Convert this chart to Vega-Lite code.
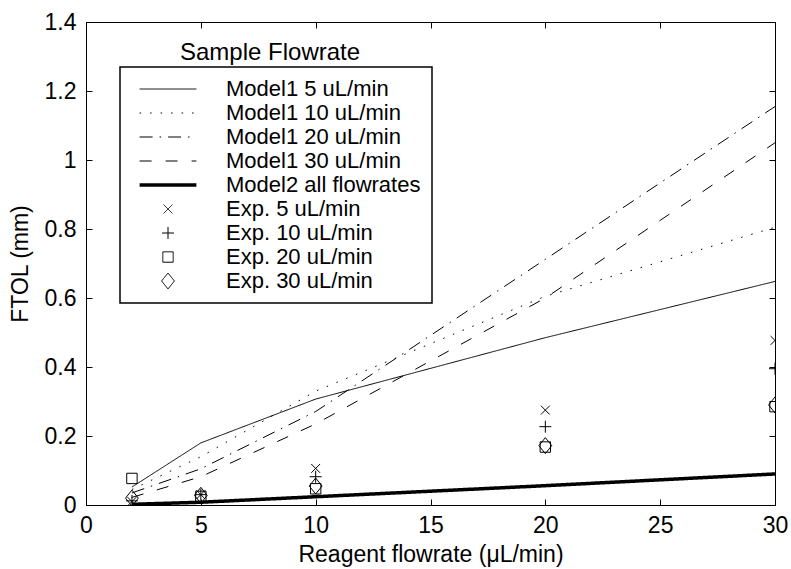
{
  "$schema": "https://vega.github.io/schema/vega-lite/v6.json",
  "width": 689,
  "height": 483,
  "autosize": {"type": "none"},
  "padding": {"left": 86, "top": 22, "right": 16, "bottom": 64},
  "background": "white",
  "title": {
    "text": "Sample Flowrate",
    "anchor": "start",
    "frame": "group",
    "dx": 94,
    "offset": -38,
    "dy": 35,
    "baseline": "alphabetic",
    "fontSize": 24,
    "fontWeight": "normal",
    "font": "Liberation Sans",
    "color": "black"
  },
  "config": {
    "font": "Liberation Sans",
    "view": {"stroke": "black", "strokeWidth": 1},
    "axis": {
      "grid": false,
      "domainColor": "black",
      "tickColor": "black",
      "labelColor": "black",
      "titleColor": "black",
      "labelFont": "Liberation Sans",
      "titleFont": "Liberation Sans",
      "labelFontSize": 23,
      "titleFontSize": 23,
      "titleFontWeight": "normal",
      "tickSize": -6,
      "labelPadding": 15,
      "labelFlush": false,
      "labelOverlap": false
    },
    "legend": {
      "orient": "none",
      "legendX": 34,
      "legendY": 45,
      "strokeColor": "black",
      "strokeWidth": 1.5,
      "fillColor": "white",
      "padding": 11,
      "labelFont": "Liberation Sans",
      "labelFontSize": 22,
      "labelColor": "black",
      "labelLimit": 400,
      "symbolSize": 64,
      "symbolStrokeColor": "black",
      "symbolFillColor": "transparent",
      "symbolOpacity": 1,
      "labelOffset": 47,
      "rowPadding": 2,
      "symbolOffset": 26
    }
  },
  "datasets": {
    "model": [
      {"series": "Model1 5 uL/min", "flow": 2, "ftol": 0.052},
      {"series": "Model1 5 uL/min", "flow": 5, "ftol": 0.18},
      {"series": "Model1 5 uL/min", "flow": 10, "ftol": 0.307},
      {"series": "Model1 5 uL/min", "flow": 20, "ftol": 0.485},
      {"series": "Model1 5 uL/min", "flow": 30, "ftol": 0.648},
      {"series": "Model1 10 uL/min", "flow": 2, "ftol": 0.045},
      {"series": "Model1 10 uL/min", "flow": 5, "ftol": 0.14},
      {"series": "Model1 10 uL/min", "flow": 10, "ftol": 0.33},
      {"series": "Model1 10 uL/min", "flow": 20, "ftol": 0.605},
      {"series": "Model1 10 uL/min", "flow": 30, "ftol": 0.805},
      {"series": "Model1 20 uL/min", "flow": 2, "ftol": 0.035},
      {"series": "Model1 20 uL/min", "flow": 5, "ftol": 0.105},
      {"series": "Model1 20 uL/min", "flow": 10, "ftol": 0.271},
      {"series": "Model1 20 uL/min", "flow": 20, "ftol": 0.712},
      {"series": "Model1 20 uL/min", "flow": 30, "ftol": 1.155},
      {"series": "Model1 30 uL/min", "flow": 2, "ftol": 0.022},
      {"series": "Model1 30 uL/min", "flow": 5, "ftol": 0.082},
      {"series": "Model1 30 uL/min", "flow": 10, "ftol": 0.235},
      {"series": "Model1 30 uL/min", "flow": 20, "ftol": 0.6},
      {"series": "Model1 30 uL/min", "flow": 30, "ftol": 1.05},
      {"series": "Model2 all flowrates", "flow": 2, "ftol": 0.002},
      {"series": "Model2 all flowrates", "flow": 5, "ftol": 0.008},
      {"series": "Model2 all flowrates", "flow": 10, "ftol": 0.024},
      {"series": "Model2 all flowrates", "flow": 20, "ftol": 0.056},
      {"series": "Model2 all flowrates", "flow": 30, "ftol": 0.09}
    ],
    "exp": [
      {"series": "Exp. 5 uL/min", "flow": 2, "ftol": 0.01},
      {"series": "Exp. 5 uL/min", "flow": 5, "ftol": 0.03},
      {"series": "Exp. 5 uL/min", "flow": 10, "ftol": 0.106},
      {"series": "Exp. 5 uL/min", "flow": 20, "ftol": 0.275},
      {"series": "Exp. 5 uL/min", "flow": 30, "ftol": 0.477},
      {"series": "Exp. 10 uL/min", "flow": 2, "ftol": 0.012},
      {"series": "Exp. 10 uL/min", "flow": 5, "ftol": 0.03},
      {"series": "Exp. 10 uL/min", "flow": 10, "ftol": 0.082},
      {"series": "Exp. 10 uL/min", "flow": 20, "ftol": 0.227},
      {"series": "Exp. 10 uL/min", "flow": 30, "ftol": 0.395},
      {"series": "Exp. 20 uL/min", "flow": 2, "ftol": 0.077},
      {"series": "Exp. 20 uL/min", "flow": 5, "ftol": 0.025},
      {"series": "Exp. 20 uL/min", "flow": 10, "ftol": 0.047},
      {"series": "Exp. 20 uL/min", "flow": 20, "ftol": 0.168},
      {"series": "Exp. 20 uL/min", "flow": 30, "ftol": 0.285},
      {"series": "Exp. 30 uL/min", "flow": 2, "ftol": 0.02},
      {"series": "Exp. 30 uL/min", "flow": 5, "ftol": 0.028},
      {"series": "Exp. 30 uL/min", "flow": 10, "ftol": 0.055},
      {"series": "Exp. 30 uL/min", "flow": 20, "ftol": 0.172},
      {"series": "Exp. 30 uL/min", "flow": 30, "ftol": 0.29}
    ]
  },
  "layer": [
    {
      "data": {"name": "model"},
      "mark": {"type": "line", "color": "black", "clip": true},
      "encoding": {
        "x": {
          "field": "flow", "type": "quantitative",
          "scale": {"domain": [0, 30], "nice": false, "zero": false},
          "axis": {"orient": "bottom", "title": "Reagent flowrate (μL/min)", "values": [0, 5, 10, 15, 20, 25, 30], "titlePadding": 6}
        },
        "y": {
          "field": "ftol", "type": "quantitative",
          "scale": {"domain": [0, 1.4], "nice": false, "zero": false},
          "axis": {"orient": "left", "title": "FTOL (mm)", "values": [0, 0.2, 0.4, 0.6, 0.8, 1, 1.2, 1.4], "format": "~g", "labelPadding": 16, "titlePadding": 12}
        },
        "strokeDash": {
          "field": "series", "type": "nominal",
          "scale": {
            "domain": ["Model1 5 uL/min", "Model1 10 uL/min", "Model1 20 uL/min", "Model1 30 uL/min", "Model2 all flowrates", "Exp. 5 uL/min", "Exp. 10 uL/min", "Exp. 20 uL/min", "Exp. 30 uL/min"],
            "range": [[1, 0], [1.5, 9], [13, 7, 1.5, 7], [12, 14], [1, 0], [1, 0], [1, 0], [1, 0], [1, 0]]
          },
          "legend": {"title": null}
        },
        "strokeWidth": {
          "field": "series", "type": "nominal",
          "scale": {
            "type": "ordinal",
            "domain": ["Model1 5 uL/min", "Model1 10 uL/min", "Model1 20 uL/min", "Model1 30 uL/min", "Model2 all flowrates", "Exp. 5 uL/min", "Exp. 10 uL/min", "Exp. 20 uL/min", "Exp. 30 uL/min"],
            "range": [1, 1, 1, 1, 3.5, 1, 1, 1, 1]
          },
          "legend": {"title": null}
        },
        "order": {"field": "flow", "type": "quantitative"}
      }
    },
    {
      "data": {"name": "exp"},
      "mark": {"type": "point", "filled": false, "color": "black", "opacity": 1, "strokeWidth": 1, "size": 64, "clip": true},
      "encoding": {
        "x": {
          "field": "flow", "type": "quantitative",
          "axis": {"orient": "top", "title": null, "labels": false, "values": [0, 5, 10, 15, 20, 25, 30]}
        },
        "y": {
          "field": "ftol", "type": "quantitative",
          "axis": {"orient": "right", "title": null, "labels": false, "values": [0, 0.2, 0.4, 0.6, 0.8, 1, 1.2, 1.4]}
        },
        "shape": {
          "field": "series", "type": "nominal",
          "scale": {
            "domain": ["Model1 5 uL/min", "Model1 10 uL/min", "Model1 20 uL/min", "Model1 30 uL/min", "Model2 all flowrates", "Exp. 5 uL/min", "Exp. 10 uL/min", "Exp. 20 uL/min", "Exp. 30 uL/min"],
            "range": ["M-7.1,0L7.1,0", "M-7.1,0L7.1,0", "M-7.1,0L7.1,0", "M-7.1,0L7.1,0", "M-7.1,0L7.1,0", "M-1.1,-1.1L1.1,1.1M-1.1,1.1L1.1,-1.1", "M-1.5,0L1.5,0M0,-1.5L0,1.5", "M-1.3,-1.3L1.3,-1.3L1.3,1.3L-1.3,1.3Z", "M0,-2L1.6,0L0,2L-1.6,0Z"]
          },
          "legend": {"title": null}
        }
      }
    }
  ],
  "resolve": {"axis": {"x": "independent", "y": "independent"}}
}
